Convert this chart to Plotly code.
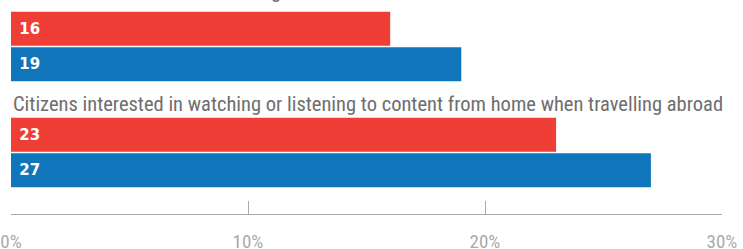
import plotly.graph_objects as go

groups = ["Citizens who have been travelling",
          "Citizens interested in watching or listening to content from home when travelling abroad"]
series_names = ["Series A", "Series B"]
series_a = [16, 23]
series_b = [19, 27]
tick_vals = [0, 10, 20, 30]
tick_text = ["0%", "10%", "20%", "30%"]

RED = "#EF3E36"
BLUE = "#1175BB"
LABEL_FONT = "Roboto Condensed, Arial Narrow, sans-serif"

idx = list(range(len(groups)))
fig = go.Figure()
for name, vals, col in [(series_names[0], series_a, RED), (series_names[1], series_b, BLUE)]:
    fig.add_trace(go.Bar(
        y=idx, x=vals, orientation="h", name=name,
        marker=dict(color=col, line=dict(width=0)),
        text=[f"\u00a0{v}" for v in vals], textposition="inside",
        insidetextanchor="start",
        textfont=dict(color="white", size=15, family="DejaVu Sans, sans-serif", weight="bold"),
        hoverinfo="skip",
    ))

label_shifts = [56, 49]
for i, g in zip(idx, groups):
    fig.add_annotation(x=0, xref="paper", y=i, yref="y", xanchor="left", yanchor="middle",
                       yshift=label_shifts[i], text=g, showarrow=False,
                       font=dict(size=20.5, color="#6e6e6e", family=LABEL_FONT))

fig.update_layout(
    width=743, height=249,
    margin=dict(l=11, r=21, t=0, b=35, autoexpand=False),
    paper_bgcolor="white", plot_bgcolor="white",
    barmode="group", bargap=0.33, bargroupgap=0.045,
    showlegend=False,
    xaxis=dict(range=[0, 30], tickvals=tick_vals, ticktext=tick_text,
               ticks="inside", ticklen=13, tickcolor="#aaaaaa", tickwidth=1,
               showline=True, linecolor="#aaaaaa", linewidth=1,
               showgrid=False, zeroline=False, ticklabelstandoff=10,
               automargin=False, ticklabeloverflow="allow",
               tickfont=dict(size=19, color="#aaaaaa", family=LABEL_FONT)),
    yaxis=dict(range=[1.58, -0.439], showticklabels=False, showgrid=False,
               zeroline=False, showline=False, ticks="", automargin=False),
)

fig.write_html("out.html", config={"displayModeBar": False},
               post_script="document.body.style.margin='0px';")
